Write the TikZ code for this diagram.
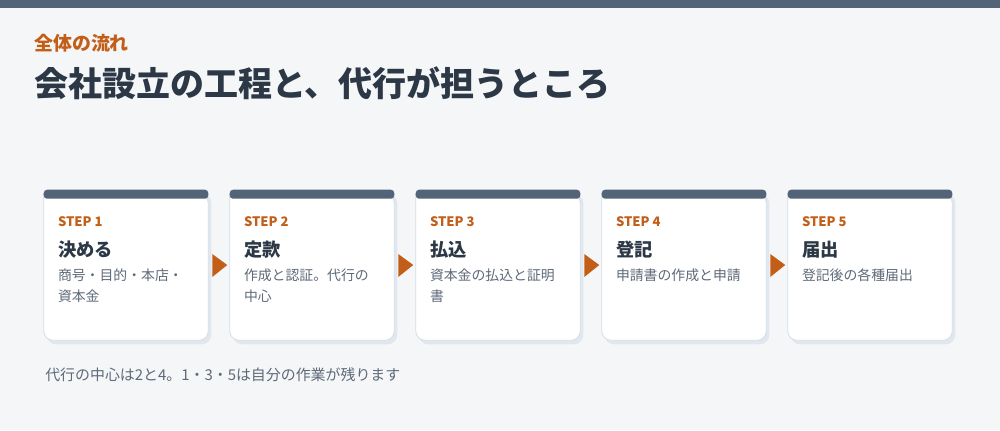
\documentclass[tikz,border=0pt]{standalone}
\usepackage{fontspec}
\setmainfont{Noto Sans CJK JP}
\usetikzlibrary{positioning}
\definecolor{pagebg}{HTML}{F5F6F8}
\definecolor{slate}{HTML}{536479}
\definecolor{accent}{HTML}{C25E17}
\definecolor{ink}{HTML}{2C3846}
\definecolor{muted}{HTML}{5E6A79}
\definecolor{cardedge}{HTML}{D6DDE5}
\definecolor{cardshade}{HTML}{E1E7EE}

\begin{document}
\begin{tikzpicture}[x=0.75pt, y=0.75pt,
    card/.style={minimum width=123pt, minimum height=112.5pt, inner sep=0pt},
    steplbl/.style={anchor=base west, inner sep=0pt, text=accent, font=\bfseries\fontsize{9.8pt}{12pt}\selectfont},
    steptitle/.style={anchor=base west, inner sep=0pt, text=ink, font=\bfseries\fontsize{13.7pt}{16pt}\selectfont},
    stepdesc/.style={anchor=base west, inner sep=0pt, text=muted, align=left, font=\fontsize{10.4pt}{15.75pt}\selectfont}]

    % page
    \useasboundingbox (0,0) rectangle (1000,-430);
    \fill[pagebg] (0,0) rectangle (1000,-430);
    \fill[slate] (0,0) rectangle (1000,-8);

    \node[anchor=base west, inner sep=0pt, text=accent, font=\bfseries\fontsize{14.2pt}{16pt}\selectfont] (kicker) at (34,-50) {全体の流れ};
    \node[anchor=base west, inner sep=0pt, text=ink, font=\bfseries\fontsize{25.5pt}{30pt}\selectfont] (headline) at (34,-96) {会社設立の工程と、代行が担うところ};

    % cards
    \node[card] (c1) at (126,-265) {};
    \node[card] (c2) at (312,-265) {};
    \node[card] (c3) at (498,-265) {};
    \node[card] (c4) at (684,-265) {};
    \node[card] (c5) at (870,-265) {};

    \foreach \c in {c1,c2,c3,c4,c5} {
        \fill[cardshade] ([shift={(3,-4)}]\c.north west) [rounded corners=7pt] -- ([shift={(3,-4)}]\c.south west) -- ([shift={(3,-4)}]\c.south east) -- ([shift={(3,-4)}]\c.north east) [sharp corners] -- cycle;
        \filldraw[fill=white, draw=cardedge, line width=0.6pt] ([shift={(0,-4)}]\c.north west) [rounded corners=7pt] -- (\c.south west) -- (\c.south east) -- ([shift={(0,-4)}]\c.north east) [sharp corners] -- cycle;
        \fill[slate, rounded corners=2.5pt] (\c.north west) rectangle ([shift={(0,-9)}]\c.north east);
    }

    % flow marks
    \foreach \a in {c1,c2,c3,c4} {
        \fill[accent] ([shift={(4,11)}]\a.east) -- ([shift={(4,-12)}]\a.east) -- ([shift={(19,0)}]\a.east) -- cycle;
    }

    % base of a two-line text sits on its last line
    \node[steplbl] (s1) at ([shift={(14,-37)}]c1.north west) {STEP 1};
    \node[steptitle] (t1) at ([shift={(14,-67)}]c1.north west) {決める};
    \node[stepdesc] (d1) at ([shift={(14,-112)}]c1.north west) {商号・目的・本店・\\資本金};

    \node[steplbl] (s2) at ([shift={(14,-37)}]c2.north west) {STEP 2};
    \node[steptitle] (t2) at ([shift={(14,-67)}]c2.north west) {定款};
    \node[stepdesc] (d2) at ([shift={(14,-112)}]c2.north west) {作成と認証。代行の\\中心};

    \node[steplbl] (s3) at ([shift={(14,-37)}]c3.north west) {STEP 3};
    \node[steptitle] (t3) at ([shift={(14,-67)}]c3.north west) {払込};
    \node[stepdesc] (d3) at ([shift={(14,-112)}]c3.north west) {資本金の払込と証明\\書};

    \node[steplbl] (s4) at ([shift={(14,-37)}]c4.north west) {STEP 4};
    \node[steptitle] (t4) at ([shift={(14,-67)}]c4.north west) {登記};
    \node[stepdesc] (d4) at ([shift={(14,-91)}]c4.north west) {申請書の作成と申請};

    \node[steplbl] (s5) at ([shift={(14,-37)}]c5.north west) {STEP 5};
    \node[steptitle] (t5) at ([shift={(14,-67)}]c5.north west) {届出};
    \node[stepdesc] (d5) at ([shift={(14,-91)}]c5.north west) {登記後の各種届出};

    \node[anchor=base west, inner sep=0pt, text=muted, font=\fontsize{11.2pt}{14pt}\selectfont] (note) at (45,-380) {代行の中心は2と4。1・3・5は自分の作業が残ります};
\end{tikzpicture}
\end{document}
